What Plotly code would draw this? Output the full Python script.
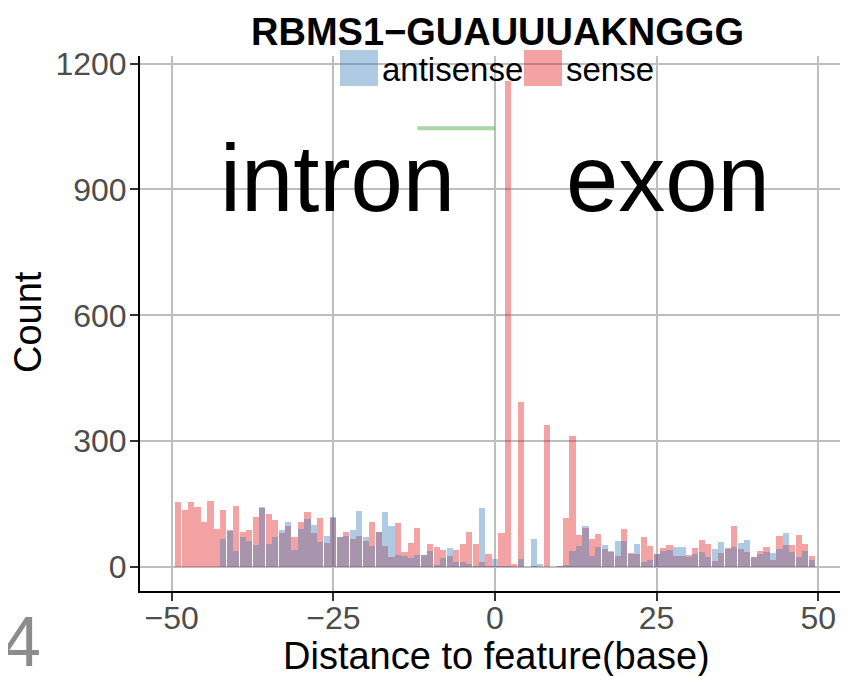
import plotly.graph_objects as go

# distance bins (integer centres) and counts per strand
positions = list(range(-49, 50))

sense = [155, 136, 155, 143, 107, 157, 90, 136, 88, 145,
         83, 88, 119, 140, 126, 112, 81, 98, 71, 107,
         131, 81, 117, 57, 117, 71, 83, 67, 74, 62,
         107, 83, 50, 24, 105, 36, 57, 93, 29, 55,
         48, 40, 26, 40, 55, 83, 55, 12, 31, 3,
         81, 1159, 8, 393, 0, 2, 0, 339, 0, 3,
         117, 312, 76, 93, 67, 79, 43, 36, 26, 90,
         33, 31, 71, 50, 31, 45, 52, 26, 26, 29,
         45, 64, 55, 14, 33, 45, 98, 43, 36, 24,
         38, 48, 17, 74, 52, 52, 76, 55, 26]

antisense = [0, 0, 0, 0, 0, 0, 0, 67, 86, 38,
             71, 62, 52, 143, 55, 71, 88, 107, 40, 90,
             114, 100, 60, 74, 119, 71, 74, 88, 133, 71,
             50, 83, 131, 98, 29, 26, 21, 29, 29, 38,
             5, 21, 45, 12, 12, 7, 2, 140, 2, 19,
             2, 2, 0, 19, 0, 67, 8, 0, 0, 3,
             5, 38, 50, 98, 26, 48, 52, 38, 62, 62,
             31, 55, 12, 17, 31, 38, 40, 48, 48, 24,
             31, 36, 24, 43, 60, 43, 48, 57, 64, 24,
             31, 36, 33, 43, 81, 36, 24, 38, 17]

# green segment near the top
seg_x = [-12, 0]
seg_y = [1046, 1046]

RED = "rgba(228,26,28,0.4)"
BLUE = "rgba(55,126,184,0.4)"
FONT = "Liberation Sans"

# the page puts the figure 8px in from the top-left corner
OFF = 8
W, H = 848 - OFF, 676 - OFF

# plot area in page pixels
L, R, T, B = 140, 848, 56, 591
PW, PH = R - L, B - T


def px(x):
    return (x - L) / PW


def py(y):
    return (B - y) / PH


fig = go.Figure()
fig.add_trace(go.Bar(x=positions, y=sense, name="sense", width=0.95,
                     marker=dict(color=RED, line=dict(width=0))))
fig.add_trace(go.Bar(x=positions, y=antisense, name="antisense", width=0.95,
                     marker=dict(color=BLUE, line=dict(width=0))))
fig.add_trace(go.Scatter(x=seg_x, y=seg_y, mode="lines",
                         line=dict(color="rgba(77,175,74,0.5)", width=4)))

shapes = [
    # legend background hiding the top gridline
    dict(type="rect", xref="paper", yref="paper", x0=px(338), x1=px(493),
         y0=py(80), y1=py(47), fillcolor="white", line=dict(width=0), layer="between"),
    dict(type="rect", xref="paper", yref="paper", x0=px(497), x1=px(656),
         y0=py(80), y1=py(47), fillcolor="white", line=dict(width=0), layer="between"),
    # legend keys
    dict(type="rect", xref="paper", yref="paper", x0=px(340), x1=px(378),
         y0=py(86), y1=py(50), fillcolor=BLUE, line=dict(width=0), layer="above"),
    dict(type="rect", xref="paper", yref="paper", x0=px(524), x1=px(562),
         y0=py(86), y1=py(50), fillcolor=RED, line=dict(width=0), layer="above"),
]

annotations = [
    dict(text="<b>RBMS1\u2212GUAUUUAKNGGG</b>", xref="paper", yref="paper",
         x=px(497), y=py(32), xanchor="center", yanchor="middle", showarrow=False,
         font=dict(size=38, color="black", family=FONT)),
    dict(text="antisense", xref="paper", yref="paper", x=px(380), y=py(70),
         xanchor="left", yanchor="middle", showarrow=False,
         font=dict(size=33, color="black", family=FONT)),
    dict(text="sense", xref="paper", yref="paper", x=px(564), y=py(70),
         xanchor="left", yanchor="middle", showarrow=False,
         font=dict(size=33, color="black", family=FONT)),
    dict(text="intron", xref="x", yref="y", x=-24.4, y=927,
         xanchor="center", yanchor="middle", showarrow=False,
         font=dict(size=94, color="black", family=FONT)),
    dict(text="exon", xref="x", yref="y", x=26.8, y=927,
         xanchor="center", yanchor="middle", showarrow=False,
         font=dict(size=94, color="black", family=FONT)),
    dict(text="Distance to feature(base)", xref="paper", yref="paper",
         x=px(496), y=py(656), xanchor="center", yanchor="middle", showarrow=False,
         font=dict(size=38, color="black", family=FONT)),
    dict(text="Count", xref="paper", yref="paper", x=px(28), y=py(322),
         xanchor="center", yanchor="middle", showarrow=False, textangle=-90,
         font=dict(size=38, color="black", family=FONT)),
    dict(text="4", xref="paper", yref="paper", x=px(0), y=py(642),
         xanchor="left", yanchor="middle", showarrow=False,
         font=dict(size=70, color="#8c8c8c", family=FONT)),
]

fig.update_layout(
    width=W, height=H,
    margin=dict(l=L - OFF, r=848 - R, t=T - OFF, b=676 - B, pad=0),
    paper_bgcolor="white", plot_bgcolor="white",
    barmode="overlay", bargap=0,
    showlegend=False,
    shapes=shapes, annotations=annotations,
    font=dict(family=FONT),
)
fig.update_xaxes(
    range=[-54.9, 54.6], tickvals=[-50, -25, 0, 25, 50],
    ticktext=["\u221250", "\u221225", "0", "25", "50"],
    showgrid=True, gridcolor="#bebebe", gridwidth=2, zeroline=False,
    showline=True, linecolor="black", linewidth=2,
    ticks="outside", ticklen=8, tickwidth=2, tickcolor="#333333",
    ticklabelstandoff=-10,
    tickfont=dict(size=32, color="#4d4d4d", family=FONT),
)
fig.update_yaxes(
    range=[-57, 1218], tickvals=[0, 300, 600, 900, 1200],
    showgrid=True, gridcolor="#bebebe", gridwidth=2, zeroline=False,
    showline=True, linecolor="black", linewidth=2,
    ticks="outside", ticklen=8, tickwidth=2, tickcolor="#333333",
    ticklabelstandoff=-3,
    tickfont=dict(size=32, color="#4d4d4d", family=FONT),
)

fig.write_html("out.html")
